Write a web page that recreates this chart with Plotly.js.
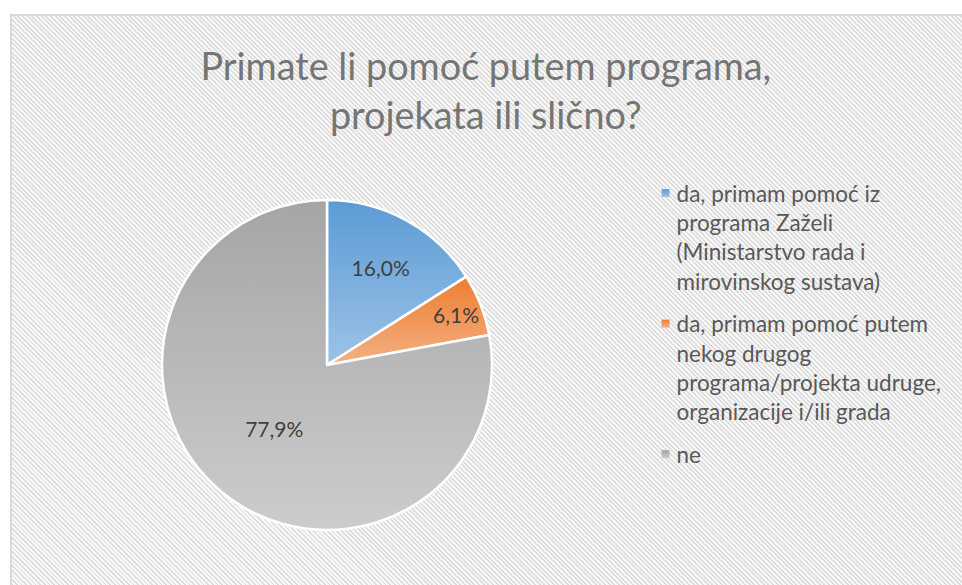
<!DOCTYPE html>
<html>
<head>
<meta charset="utf-8">
<script src="https://cdn.plot.ly/plotly-3.0.1.min.js"></script>
<style>
  html, body { margin:0; padding:0; width:962px; height:585px; overflow:hidden; background:#ffffff; }
  #frame { position:absolute; left:10px; top:14px; width:1000px; height:620px;
    border:2px solid #d9d9d9; box-sizing:border-box;
    background: repeating-linear-gradient(45deg, #dcdcdc 0px, #dcdcdc 1.4px, #f7f7f7 1.4px, #f7f7f7 3.3px); }
  #chart { position:absolute; left:0; top:0; width:962px; height:585px; }
</style>
</head>
<body>
<svg width="0" height="0" style="position:absolute">
  <defs>
    <linearGradient id="gBlue" x1="0" y1="0" x2="0" y2="1">
      <stop offset="0" stop-color="#5b9bd5"/><stop offset="1" stop-color="#9dc3e6"/>
    </linearGradient>
    <linearGradient id="gOrange" x1="0" y1="0" x2="0" y2="1">
      <stop offset="0" stop-color="#ed7d31"/><stop offset="1" stop-color="#f4b183"/>
    </linearGradient>
    <linearGradient id="gGray" x1="0" y1="0" x2="0" y2="1">
      <stop offset="0" stop-color="#a5a5a5"/><stop offset="1" stop-color="#cccccc"/>
    </linearGradient>
  </defs>
</svg>
<div id="frame"></div>
<div id="chart"></div>
<script>
const labels = [
  "da, primam pomoć iz<br>programa Zaželi<br>(Ministarstvo rada i<br>mirovinskog sustava)",
  "da, primam pomoć putem<br>nekog drugog<br>programa/projekta udruge,<br>organizacije i/ili grada",
  "ne"
];
const values = [16.0, 6.1, 77.9];
const colors = ["#7aaedd", "#f0965a", "#b8b8b8"];
const gradients = ["url(#gBlue)", "url(#gOrange)", "url(#gGray)"];

const W = 962, H = 585;
const cx = 327, cy = 365, r = 165;

const data = [{
  type: "pie",
  labels: labels,
  values: values,
  sort: false,
  direction: "clockwise",
  rotation: 0,
  marker: { colors: colors, line: { color: "#ffffff", width: 2.5 } },
  texttemplate: "%{percent:.1%}",
  textposition: "inside",
  insidetextorientation: "horizontal",
  textfont: { family: "Lato, sans-serif", size: 21, color: "#404040" },
  hoverinfo: "label+percent",
  domain: { x: [(cx - r) / W, (cx + r) / W], y: [(H - cy - r) / H, (H - cy + r) / H] }
}];

const layout = {
  width: W, height: H,
  margin: { l: 0, r: 0, t: 0, b: 0 },
  paper_bgcolor: "rgba(0,0,0,0)",
  plot_bgcolor: "rgba(0,0,0,0)",
  separators: ",.",
  font: { family: "Lato, sans-serif", color: "#595959" },
  title: {
    text: "Primate li pomoć putem programa,<br>projekata ili slično?",
    font: { family: "Lato, sans-serif", size: 37.8, color: "#757575" },
    x: 0.505, xanchor: "center",
    y: 1 - 80 / H, yanchor: "top", yref: "container"
  },
  showlegend: true,
  legend: {
    x: 0.6617, xanchor: "left",
    y: 1 - 172 / H, yanchor: "top",
    valign: "top",
    font: { family: "Lato, sans-serif", size: 22.5, color: "#595959" },
    bgcolor: "rgba(0,0,0,0)",
    traceorder: "normal"
  }
};

function applyGradients() {
  const slices = document.querySelectorAll("#chart g.slice path.surface");
  slices.forEach((p, i) => { p.style.fill = gradients[i % gradients.length]; });
  const leg = document.querySelectorAll("#chart .legend .legendpoints path");
  leg.forEach((p, i) => {
    p.setAttribute("d", "M13,4H5V-4H13Z");
    p.style.fill = gradients[i % gradients.length];
    p.style.strokeWidth = "0";
  });
  const items = document.querySelectorAll("#chart .legend g.traces");
  items.forEach((g, i) => {
    if (g.dataset.shifted) return;
    const tr = g.getAttribute("transform") || "";
    const m = tr.match(/translate\(([-\d.e]+)[ ,]+([-\d.e]+)\)/);
    if (m) {
      g.setAttribute("transform", "translate(" + m[1] + "," + (parseFloat(m[2]) + i * 10.5) + ")");
      g.dataset.shifted = "1";
    }
  });
  document.querySelectorAll("#chart .legend [clip-path]").forEach(el => el.removeAttribute("clip-path"));
}

Plotly.newPlot("chart", data, layout, { displayModeBar: false }).then(gd => {
  applyGradients();
  gd.on("plotly_afterplot", applyGradients);
});
</script>
</body>
</html>
